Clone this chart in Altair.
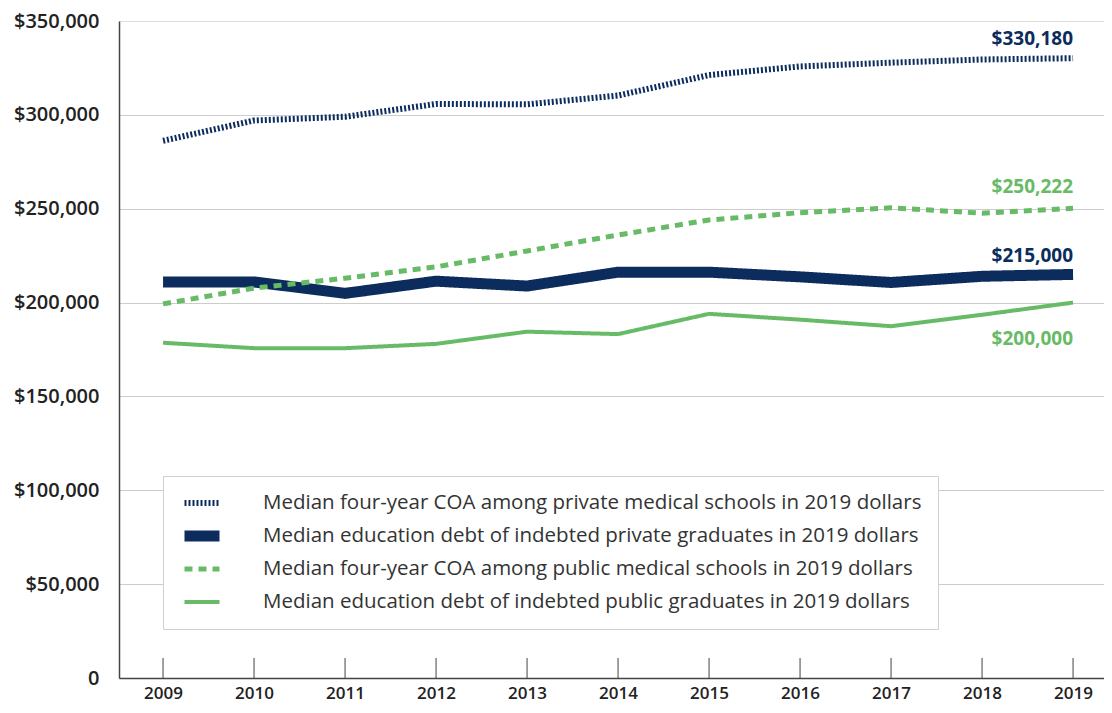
import altair as alt
import pandas as pd

years = list(range(2009, 2020))
series_names = [
    "Median four-year COA among private medical schools in 2019 dollars",
    "Median education debt of indebted private graduates in 2019 dollars",
    "Median four-year COA among public medical schools in 2019 dollars",
    "Median education debt of indebted public graduates in 2019 dollars",
]
private_coa = [286200, 297000, 299000, 305800, 305600, 310300, 321200, 325800, 327800, 329500, 330180]
private_debt = [211000, 211000, 204900, 211400, 208800, 216200, 216200, 213700, 210700, 214000, 215000]
public_coa = [199300, 207700, 213000, 219000, 227500, 236000, 244000, 247900, 250500, 247600, 250222]
public_debt = [178600, 175700, 175700, 178000, 184500, 183200, 194000, 190900, 187400, 193500, 200000]
y_ticks = [0, 50000, 100000, 150000, 200000, 250000, 300000, 350000]

NAVY = "#0b2c5c"
GREEN = "#68bb66"
colors = [NAVY, NAVY, GREEN, GREEN]
dashes = [[2, 2], [1, 0], [8, 6], [1, 0]]
widths = [6, 11, 5, 4]

all_series = [private_coa, private_debt, public_coa, public_debt]
rows = []
for name, vals in zip(series_names, all_series):
    for yr, v in zip(years, vals):
        rows.append({"year": yr, "value": v, "series": name})
df = pd.DataFrame(rows)

FONT = "Open Sans"
PLOT_W = 985
PLOT_H = 657

x_scale = alt.Scale(domain=[2008.516, 2019.34], nice=False, zero=False)
y_scale = alt.Scale(domain=[0, 350000], nice=False)


def make_legend():
    return alt.Legend(title=None, orient="none", legendX=44, legendY=455,
                      direction="vertical", symbolType="stroke", symbolSize=1225,
                      labelFont=FONT, labelFontSize=20.5, labelColor="#333",
                      labelLimit=0, labelOffset=38, rowPadding=11, clipHeight=22,
                      fillColor="white", strokeColor="#d0d0d0", padding=16)


lines = alt.Chart(df).mark_line(strokeCap="butt", strokeJoin="miter").encode(
    x=alt.X("year:Q", scale=x_scale,
            axis=alt.Axis(values=years, format="d", title=None, ticks=False, grid=False,
                          labelPadding=7, labelFont=FONT, labelFontSize=17, labelFontWeight=600,
                          labelColor="#222", domainColor="#444", domainWidth=1.5)),
    y=alt.Y("value:Q", scale=y_scale,
            axis=alt.Axis(values=y_ticks, title=None, ticks=False,
                          labelExpr="datum.value == 0 ? '0' : format(datum.value, '$,')",
                          labelPadding=20, labelFont=FONT, labelFontSize=20, labelFontWeight=600,
                          labelColor="#222", domainColor="#444", domainWidth=1.5,
                          gridColor=alt.condition("datum.value == 350000", alt.value("transparent"), alt.value("#cccccc")),
                          gridWidth=1)),
    color=alt.Color("series:N", scale=alt.Scale(domain=series_names, range=colors),
                    legend=make_legend()),
    strokeDash=alt.StrokeDash("series:N", scale=alt.Scale(domain=series_names, range=dashes),
                              legend=make_legend()),
    strokeWidth=alt.StrokeWidth("series:N",
                                scale=alt.Scale(type="ordinal", domain=series_names, range=widths),
                                legend=make_legend()),
)

tick_df = pd.DataFrame({"year": years})
ticks = alt.Chart(tick_df).mark_rule(color="#444", strokeWidth=1).encode(
    x=alt.X("year:Q", scale=x_scale),
    y=alt.value(PLOT_H - 20),
    y2=alt.value(PLOT_H),
)

label_offsets = [-19, -18, -21, 36]
label_layer_colors = [NAVY, NAVY, GREEN, GREEN]
label_layers = []
for name, vals, col, dy in zip(series_names, all_series, label_layer_colors, label_offsets):
    ldf = pd.DataFrame({"year": [years[-1]], "value": [vals[-1]]})
    label_layers.append(
        alt.Chart(ldf).mark_text(align="right", baseline="middle", dy=dy, font=FONT,
                                 fontSize=19, fontWeight=700, color=col).encode(
            x=alt.X("year:Q", scale=x_scale),
            y=alt.Y("value:Q", scale=y_scale),
            text=alt.Text("value:Q", format="$,"),
        )
    )

chart = alt.layer(ticks, lines, *label_layers).properties(
    width=PLOT_W, height=PLOT_H,
    autosize=alt.AutoSizeParams(type="none"),
    padding={"left": 111, "top": 13, "right": 0, "bottom": 26},
).configure_view(stroke=None).configure(background="white")

chart.save("out.html", embed_options={"renderer": "svg", "actions": False})
